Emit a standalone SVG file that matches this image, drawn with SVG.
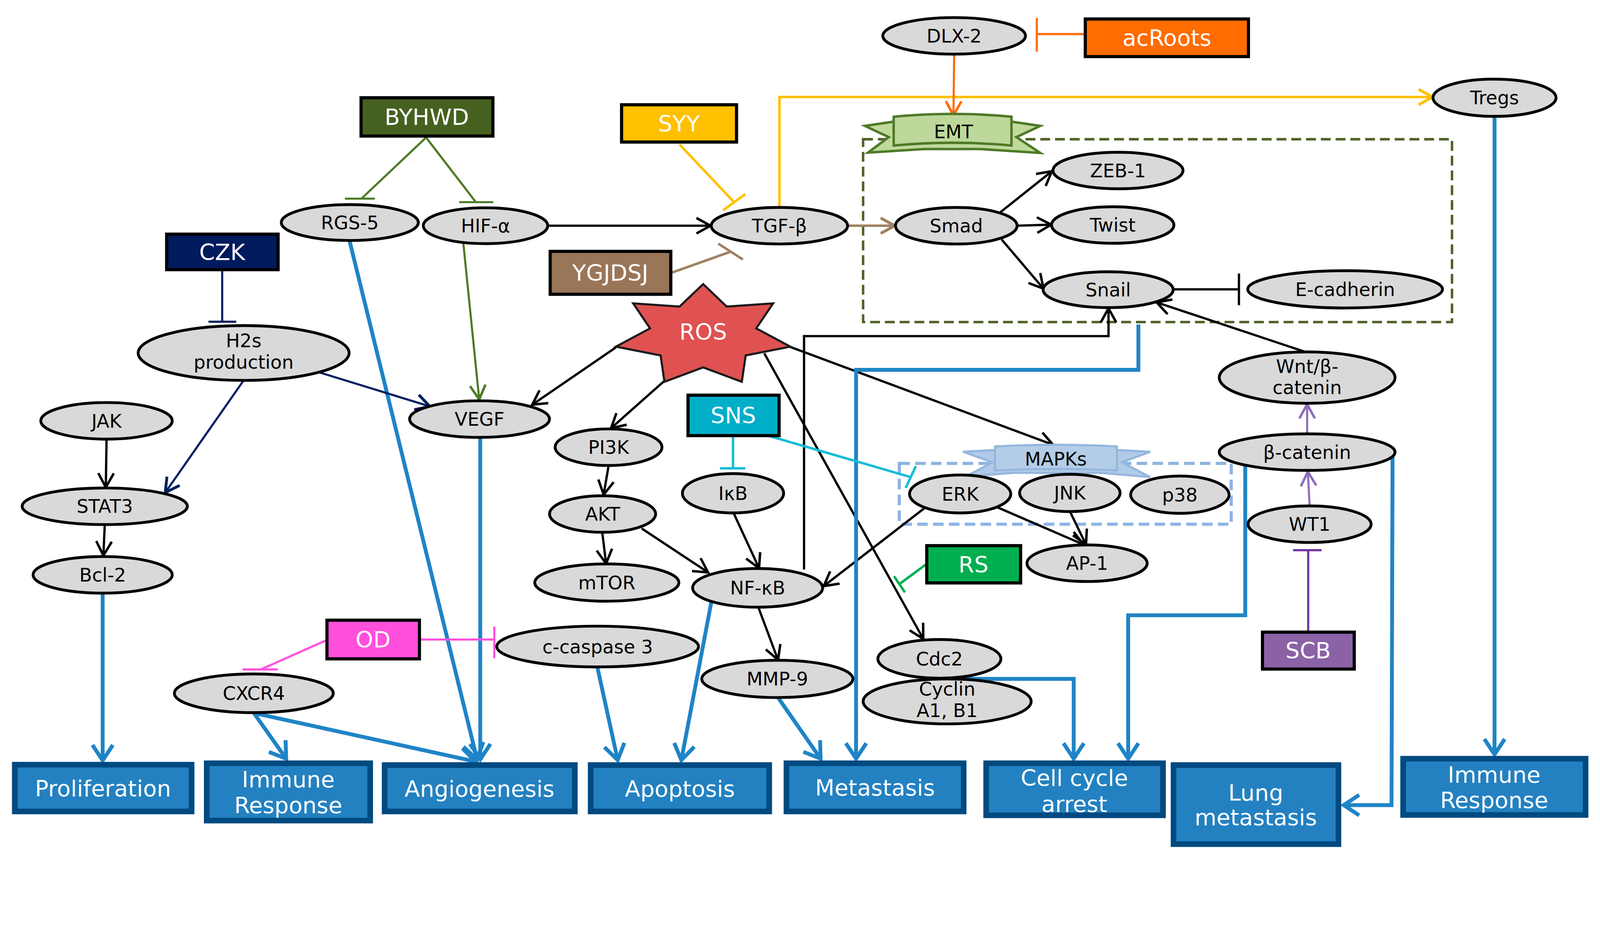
<svg xmlns="http://www.w3.org/2000/svg" width="4551" height="2435" viewBox="0 0 4551 2435" style="width:100vw;height:53.505vw;display:block">
<style>
.n{fill:#D9D9D9;stroke:#000;stroke-width:8}
.t{font-family:"DejaVu Sans","Noto Sans",sans-serif;font-size:53px;text-anchor:middle;fill:#000}
.d{stroke:#000;stroke-width:9}
.dt{font-family:"DejaVu Sans","Noto Sans",sans-serif;font-size:64px;text-anchor:middle;fill:#fff}
.o{fill:#2381C1;stroke:#004A80;stroke-width:16}
.ot{font-family:"DejaVu Sans","Noto Sans",sans-serif;font-size:64px;text-anchor:middle;fill:#fff}
.k{fill:none;stroke:#000;stroke-width:6.5}
.b{fill:none;stroke:#1F84C6;stroke-width:11}
.g{fill:none;stroke:#4F7A28;stroke-width:6}
.nv{fill:none;stroke:#002060;stroke-width:6}
.y{fill:none;stroke:#FFC000;stroke-width:7}
.br{fill:none;stroke:#A08060;stroke-width:7}
.or{fill:none;stroke:#FF6A0A;stroke-width:6}
.c{fill:none;stroke:#17BDD6;stroke-width:7}
.rs{fill:none;stroke:#00B050;stroke-width:7}
.m{fill:none;stroke:#FF50DD;stroke-width:6}
.p{fill:none;stroke:#8E6FB8;stroke-width:6}
.pd{fill:none;stroke:#7030A0;stroke-width:6}
</style>
<defs>
<marker id="aK" viewBox="0 0 50 50" refX="46" refY="25" markerWidth="50" markerHeight="50" markerUnits="userSpaceOnUse" orient="auto" overflow="visible"><path d="M6,3 L46,25 L6,47" fill="none" stroke="#000" stroke-width="7"/></marker>
<marker id="aB" viewBox="0 0 60 70" refX="54" refY="35" markerWidth="60" markerHeight="70" markerUnits="userSpaceOnUse" orient="auto" overflow="visible"><path d="M10,6 L54,35 L10,64" fill="none" stroke="#1F84C6" stroke-width="11"/></marker>
<marker id="aG" viewBox="0 0 50 50" refX="46" refY="25" markerWidth="50" markerHeight="50" markerUnits="userSpaceOnUse" orient="auto" overflow="visible"><path d="M6,3 L46,25 L6,47" fill="none" stroke="#4F7A28" stroke-width="7"/></marker>
<marker id="aN" viewBox="0 0 50 50" refX="46" refY="25" markerWidth="50" markerHeight="50" markerUnits="userSpaceOnUse" orient="auto" overflow="visible"><path d="M6,3 L46,25 L6,47" fill="none" stroke="#002060" stroke-width="8"/></marker>
<marker id="aY" viewBox="0 0 50 50" refX="46" refY="25" markerWidth="50" markerHeight="50" markerUnits="userSpaceOnUse" orient="auto" overflow="visible"><path d="M6,3 L46,25 L6,47" fill="none" stroke="#FFC000" stroke-width="8"/></marker>
<marker id="aBr" viewBox="0 0 50 50" refX="46" refY="25" markerWidth="50" markerHeight="50" markerUnits="userSpaceOnUse" orient="auto" overflow="visible"><path d="M6,3 L46,25 L6,47" fill="none" stroke="#A08060" stroke-width="8"/></marker>
<marker id="aO" viewBox="0 0 50 50" refX="46" refY="25" markerWidth="50" markerHeight="50" markerUnits="userSpaceOnUse" orient="auto" overflow="visible"><path d="M6,3 L46,25 L6,47" fill="none" stroke="#FF6A0A" stroke-width="7"/></marker>
<marker id="aP" viewBox="0 0 50 50" refX="46" refY="25" markerWidth="50" markerHeight="50" markerUnits="userSpaceOnUse" orient="auto" overflow="visible"><path d="M6,3 L46,25 L6,47" fill="none" stroke="#8E6FB8" stroke-width="7"/></marker>
</defs>
<rect width="4551" height="2435" fill="#fff"/>

<g id="groups">
<rect x="2455" y="396" width="1675" height="520" fill="none" stroke="#4F6228" stroke-width="7" stroke-dasharray="28 14"/>
<rect x="2558" y="1318" width="944" height="173" fill="none" stroke="#8DB4E2" stroke-width="9" stroke-dasharray="30 15"/>
</g>

<g id="connectors">
<path class="g" d="M1212,391 L1028,565"/><path class="g" stroke-width="9" d="M981,565 L1066,565"/>
<path class="g" d="M1212,391 L1352,573"/><path class="g" stroke-width="9" d="M1306,575 L1403,575"/>
<path class="g" d="M1318,693 L1363,1136" marker-end="url(#aG)"/>
<path class="k" d="M1558,642 L2021,642" marker-end="url(#aK)"/>
<path class="k" d="M303,1250 L301,1386" marker-end="url(#aK)"/>
<path class="k" d="M298,1493 L294,1580" marker-end="url(#aK)"/>
<path class="k" d="M1752,988 L1514,1151" marker-end="url(#aK)"/>
<path class="k" d="M1889,1084 L1738,1218" marker-end="url(#aK)"/>
<path class="k" d="M2246,986 L2995,1265" marker-end="url(#aK)"/>
<path class="k" d="M2174,1005 L2626,1817" marker-end="url(#aK)"/>
<path class="k" d="M1731,1325 L1717,1407" marker-end="url(#aK)"/>
<path class="k" d="M1713,1514 L1724,1603" marker-end="url(#aK)"/>
<path class="k" d="M1825,1503 L2014,1628" marker-end="url(#aK)"/>
<path class="k" d="M2087,1460 L2159,1616" marker-end="url(#aK)"/>
<path class="k" d="M2630,1445 L2343,1667" marker-end="url(#aK)"/>
<path class="k" d="M2837,1443 L3082,1549" marker-end="url(#aK)"/>
<path class="k" d="M3044,1456 L3089,1549" marker-end="url(#aK)"/>
<path class="k" d="M2157,1727 L2213,1877" marker-end="url(#aK)"/>
<path class="k" d="M2287,1620 L2287,956 L3153,956 L3153,877" marker-end="url(#aK)"/>
<path class="k" d="M3713,1001 L3290,860" marker-end="url(#aK)"/>
<path class="k" d="M2845,604 L2992,487" marker-end="url(#aK)"/>
<path class="k" d="M2893,642 L2990,639" marker-end="url(#aK)"/>
<path class="k" d="M2849,681 L2968,821" marker-end="url(#aK)"/>
<path class="k" d="M3337,823 L3524,823"/><path class="k" stroke-width="8" d="M3524,778 L3524,868"/>
<path class="b" d="M994,684 L1357,2160" marker-end="url(#aB)"/>
<path class="b" d="M1366,1245 L1366,2160" marker-end="url(#aB)"/>
<path class="b" stroke-width="14" d="M722,2028 L1352,2166" marker-end="url(#aB)"/>
<path class="b" d="M722,2028 L814,2158" marker-end="url(#aB)"/>
<path class="b" d="M292,1690 L292,2163" marker-end="url(#aB)"/>
<path class="b" d="M1699,1897 L1757,2162" marker-end="url(#aB)"/>
<path class="b" d="M2023,1714 L1938,2162" marker-end="url(#aB)"/>
<path class="b" d="M2213,1984 L2334,2158" marker-end="url(#aB)"/>
<path class="b" d="M3238,923 L3238,1052 L2435,1052 L2435,2158" marker-end="url(#aB)"/>
<path class="b" d="M2673,1931 L3054,1931 L3054,2158" marker-end="url(#aB)"/>
<path class="b" d="M3542,1323 L3542,1750 L3209,1750 L3209,2158" marker-end="url(#aB)"/>
<path class="b" d="M3961,1284 L3958,2290 L3822,2290" marker-end="url(#aB)"/>
<path class="b" d="M4251,331 L4251,2146" marker-end="url(#aB)"/>
<path class="nv" d="M632,771 L632,915"/><path class="nv" stroke-width="9" d="M593,915 L672,915"/>
<path class="nv" d="M693,1082 L470,1401" marker-end="url(#aN)"/>
<path class="nv" stroke-width="9" d="M911,1060 L1223,1156" marker-end="url(#aN)"/>
<path class="y" d="M1933,411 L2088,575"/><path class="y" stroke-width="8" d="M2057,598 L2120,552"/>
<path class="y" d="M2217,590 L2217,276 L4075,276" marker-end="url(#aY)"/>
<path class="br" d="M1912,775 L2078,716"/><path class="br" stroke-width="8" d="M2043,693 L2113,738"/>
<path class="br" d="M2411,642 L2545,642" marker-end="url(#aBr)"/>
<path class="or" d="M2714,154 L2712,328" marker-end="url(#aO)"/>
<path class="or" d="M3083,97 L2949,97"/><path class="or" stroke-width="7" d="M2949,51 L2949,147"/>
<path class="c" d="M2085,1243 L2085,1332"/><path class="c" stroke-width="9" d="M2048,1332 L2120,1332"/>
<path class="c" d="M2184,1239 L2590,1357"/><path class="c" d="M2605,1326 L2576,1388"/>
<path class="rs" d="M2633,1606 L2560,1660"/><path class="rs" d="M2543,1639 L2574,1685"/>
<path class="m" d="M926,1822 L742,1904"/><path class="m" stroke-width="9" d="M690,1904 L790,1904"/>
<path class="m" d="M1197,1819 L1406,1819"/><path class="m" d="M1406,1782 L1406,1872"/>
<path class="p" d="M3718,1234 L3718,1150" marker-end="url(#aP)"/>
<path class="p" d="M3725,1439 L3720,1342" marker-end="url(#aP)"/>
<path class="pd" d="M3721,1794 L3721,1565"/><path class="pd" stroke-width="10" d="M3678,1565 L3759,1565"/>
</g>

<g id="banner-EMT">
<path d="M2542,346 L2460,358 L2528,390 L2469,434 L2629,424 L2789,424 L2959,435 L2891,390 L2959,358 L2877,346 Z" fill="#C0DA9C" stroke="#4F7A28" stroke-width="7" stroke-linejoin="miter"/>
<path d="M2542,332 Q2712,316 2877,332 L2877,414 Q2712,398 2542,414 Z" fill="#BDD89A" stroke="#4F7A28" stroke-width="7"/>
<text class="t" x="2712" y="393" font-size="56">EMT</text>
</g>
<g id="banner-MAPKs">
<path d="M2830,1280 L2739,1285 L2823,1315 L2746,1356 L2880,1345 L3130,1345 L3272,1357 L3191,1315 L3272,1285 L3177,1280 Z" fill="#AFCBE8" stroke="#95B6DD" stroke-width="6"/>
<path d="M2830,1270 Q3003,1260 3177,1270 L3177,1338 Q3003,1330 2830,1338 Z" fill="#B3CDE8" stroke="#95B6DD" stroke-width="6"/>
<text class="t" x="3003" y="1324">MAPKs</text>
</g>

<g id="ROS">
<path d="M2000,808 L2067,872 L2199,863 L2151,934 L2248,986 L2121,1011 L2110,1086 L2000,1045 L1890,1086 L1879,1011 L1752,986 L1849,934 L1801,863 L1933,872 Z" fill="#E05252" stroke="#1a1a1a" stroke-width="6"/>
<text class="dt" x="2000" y="966" font-size="68">ROS</text>
</g>

<g id="DLX-2"><ellipse class="n" cx="2714" cy="102" rx="203" ry="52"/><text class="t" x="2714" y="121">DLX-2</text></g>
<g id="Tregs"><ellipse class="n" cx="4251" cy="278" rx="175" ry="53"/><text class="t" x="4251" y="297">Tregs</text></g>
<g id="RGS-5"><ellipse class="n" cx="995" cy="633" rx="195" ry="51"/><text class="t" x="995" y="652">RGS-5</text></g>
<g id="HIF-a"><ellipse class="n" cx="1381" cy="642" rx="177" ry="51"/><text class="t" x="1381" y="661">HIF-α</text></g>
<g id="TGF-b"><ellipse class="n" cx="2217" cy="642" rx="194" ry="52"/><text class="t" x="2217" y="661">TGF-β</text></g>
<g id="Smad"><ellipse class="n" cx="2720" cy="642" rx="173" ry="52"/><text class="t" x="2720" y="661">Smad</text></g>
<g id="ZEB-1"><ellipse class="n" cx="3180" cy="485" rx="185" ry="52"/><text class="t" x="3180" y="504">ZEB-1</text></g>
<g id="Twist"><ellipse class="n" cx="3165" cy="640" rx="174" ry="52"/><text class="t" x="3165" y="659">Twist</text></g>
<g id="Snail"><ellipse class="n" cx="3152" cy="824" rx="185" ry="51"/><text class="t" x="3152" y="843">Snail</text></g>
<g id="E-cadherin"><ellipse class="n" cx="3826" cy="823" rx="277" ry="53"/><text class="t" x="3826" y="842">E-cadherin</text></g>
<g id="H2s"><ellipse class="n" cx="693" cy="1004" rx="300" ry="78"/><text class="t" x="693" y="988">H2s</text><text class="t" x="693" y="1049">production</text></g>
<g id="JAK"><ellipse class="n" cx="303" cy="1197" rx="187" ry="52"/><text class="t" x="303" y="1216">JAK</text></g>
<g id="STAT3"><ellipse class="n" cx="298" cy="1440" rx="235" ry="52"/><text class="t" x="298" y="1459">STAT3</text></g>
<g id="VEGF"><ellipse class="n" cx="1364" cy="1192" rx="199" ry="52"/><text class="t" x="1364" y="1211">VEGF</text></g>
<g id="Bcl-2"><ellipse class="n" cx="292" cy="1635" rx="198" ry="52"/><text class="t" x="292" y="1654">Bcl-2</text></g>
<g id="PI3K"><ellipse class="n" cx="1731" cy="1272" rx="152" ry="52"/><text class="t" x="1731" y="1291">PI3K</text></g>
<g id="AKT"><ellipse class="n" cx="1714" cy="1462" rx="151" ry="52"/><text class="t" x="1714" y="1481">AKT</text></g>
<g id="IkB"><ellipse class="n" cx="2085" cy="1403" rx="144" ry="56"/><text class="t" x="2085" y="1422">IκB</text></g>
<g id="ERK"><ellipse class="n" cx="2731" cy="1405" rx="144" ry="54"/><text class="t" x="2731" y="1424">ERK</text></g>
<g id="JNK"><ellipse class="n" cx="3043" cy="1402" rx="143" ry="53"/><text class="t" x="3043" y="1421">JNK</text></g>
<g id="p38"><ellipse class="n" cx="3356" cy="1407" rx="140" ry="53"/><text class="t" x="3356" y="1426">p38</text></g>
<g id="AP-1"><ellipse class="n" cx="3092" cy="1602" rx="171" ry="52"/><text class="t" x="3092" y="1621">AP-1</text></g>
<g id="mTOR"><ellipse class="n" cx="1726" cy="1657" rx="205" ry="53"/><text class="t" x="1726" y="1676">mTOR</text></g>
<g id="NF-kB"><ellipse class="n" cx="2155" cy="1672" rx="185" ry="55"/><text class="t" x="2155" y="1691">NF-κB</text></g>
<g id="c-caspase3"><ellipse class="n" cx="1700" cy="1839" rx="287" ry="58"/><text class="t" x="1700" y="1858">c-caspase 3</text></g>
<g id="MMP-9"><ellipse class="n" cx="2211" cy="1931" rx="215" ry="53"/><text class="t" x="2211" y="1950">MMP-9</text></g>
<g id="Cdc2"><ellipse class="n" cx="2672" cy="1874" rx="175" ry="55"/><text class="t" x="2672" y="1893">Cdc2</text></g>
<g id="Cyclin"><ellipse class="n" cx="2694" cy="1995" rx="239" ry="64"/><text class="t" x="2694" y="1978">Cyclin</text><text class="t" x="2694" y="2040">A1, B1</text></g>
<g id="CXCR4"><ellipse class="n" cx="722" cy="1972" rx="226" ry="55"/><text class="t" x="722" y="1991">CXCR4</text></g>
<g id="Wnt"><ellipse class="n" cx="3718" cy="1074" rx="250" ry="73"/><text class="t" x="3718" y="1061">Wnt/β-</text><text class="t" x="3718" y="1121">catenin</text></g>
<g id="b-catenin"><ellipse class="n" cx="3718" cy="1286" rx="250" ry="52"/><text class="t" x="3718" y="1305">β-catenin</text></g>
<g id="WT1"><ellipse class="n" cx="3725" cy="1491" rx="175" ry="52"/><text class="t" x="3725" y="1510">WT1</text></g>

<g id="BYHWD"><rect class="d" x="1027" y="278" width="375" height="109" fill="#46611F"/><text class="dt" x="1214" y="356">BYHWD</text></g>
<g id="CZK"><rect class="d" x="474" y="666" width="317" height="101" fill="#001A5E"/><text class="dt" x="632" y="740">CZK</text></g>
<g id="SYY"><rect class="d" x="1768" y="298" width="327" height="106" fill="#FFC000"/><text class="dt" x="1931" y="374">SYY</text></g>
<g id="acRoots"><rect class="d" x="3087" y="54" width="464" height="107" fill="#FF6D00"/><text class="dt" x="3319" y="130">acRoots</text></g>
<g id="YGJDSJ"><rect class="d" x="1565" y="715" width="343" height="122" fill="#9A7659"/><text class="dt" x="1736" y="799">YGJDSJ</text></g>
<g id="SNS"><rect class="d" x="1957" y="1124" width="259" height="115" fill="#00AEC7"/><text class="dt" x="2086" y="1204">SNS</text></g>
<g id="RS"><rect class="d" x="2636" y="1552" width="267" height="106" fill="#00B050"/><text class="dt" x="2769" y="1628">RS</text></g>
<g id="OD"><rect class="d" x="930" y="1764" width="263" height="110" fill="#FF50DD"/><text class="dt" x="1061" y="1842">OD</text></g>
<g id="SCB"><rect class="d" x="3591" y="1798" width="261" height="105" fill="#8A62A5"/><text class="dt" x="3721" y="1873">SCB</text></g>

<g id="Proliferation"><rect class="o" x="42" y="2175" width="503" height="133"/><text class="ot" x="293" y="2265">Proliferation</text></g>
<g id="ImmuneL"><rect class="o" x="588" y="2171" width="465" height="163"/><text class="ot" x="820" y="2240">Immune</text><text class="ot" x="820" y="2313">Response</text></g>
<g id="Angiogenesis"><rect class="o" x="1094" y="2176" width="541" height="132"/><text class="ot" x="1364" y="2266">Angiogenesis</text></g>
<g id="Apoptosis"><rect class="o" x="1680" y="2176" width="508" height="132"/><text class="ot" x="1934" y="2266">Apoptosis</text></g>
<g id="Metastasis"><rect class="o" x="2237" y="2171" width="504" height="137"/><text class="ot" x="2489" y="2263">Metastasis</text></g>
<g id="CellCycle"><rect class="o" x="2805" y="2171" width="503" height="148"/><text class="ot" x="3056" y="2235">Cell  cycle</text><text class="ot" x="3056" y="2310">arrest</text></g>
<g id="Lung"><rect class="o" x="3338" y="2176" width="469" height="225"/><text class="ot" x="3572" y="2277">Lung</text><text class="ot" x="3572" y="2347">metastasis</text></g>
<g id="ImmuneR"><rect class="o" x="3991" y="2158" width="519" height="160"/><text class="ot" x="4250" y="2226">Immune</text><text class="ot" x="4250" y="2298">Response</text></g>
</svg>
